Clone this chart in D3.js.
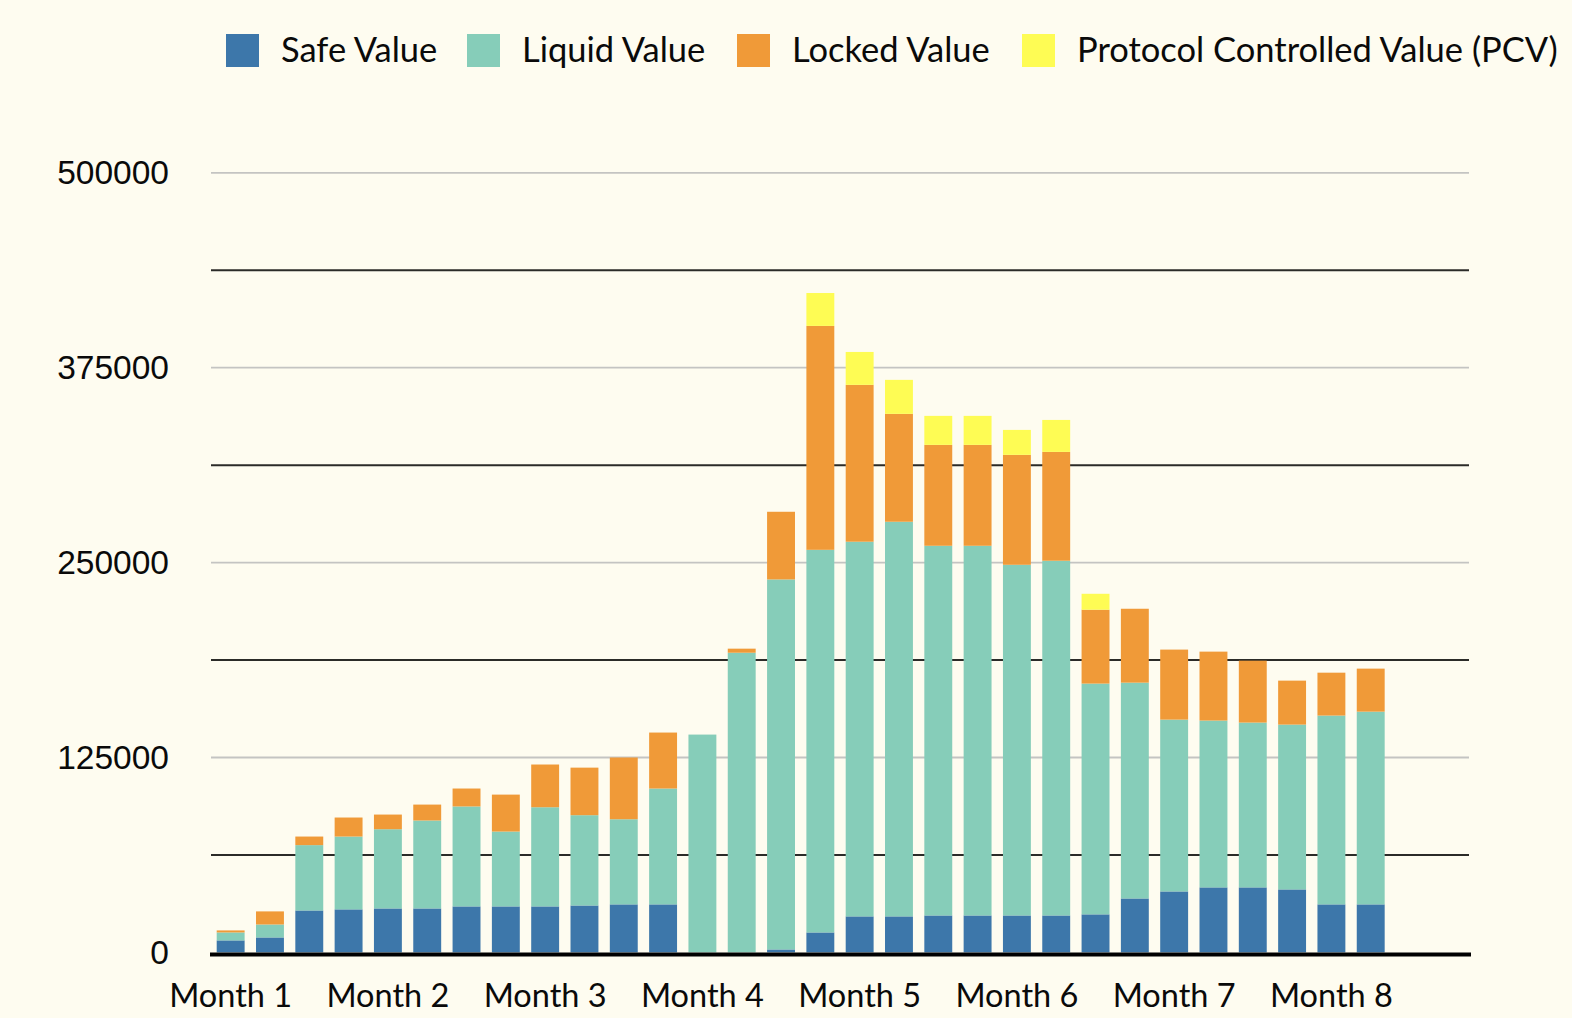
<!DOCTYPE html>
<html>
<head>
<meta charset="utf-8">
<script src="https://cdn.jsdelivr.net/npm/d3@7"></script>
<style>
  html, body { margin: 0; padding: 0; background: #fefcf0; }
  svg { display: block; }
</style>
</head>
<body>
<svg id="chart" width="1572" height="1018"></svg>
<script>
// ---- data ----
const categories = ["P1","P2","P3","P4","P5","P6","P7","P8","P9","P10","P11","P12","P13","P14","P15","P16",
                    "P17","P18","P19","P20","P21","P22","P23","P24","P25","P26","P27","P28","P29","P30","P31","P32"];
const safeValue   = [7700, 9600, 26900, 27600, 28200, 28200, 29500, 29500, 29500, 30100, 30800, 30800, 0, 0, 1900, 12800,
                     23100, 23100, 23700, 23700, 23700, 23700, 24400, 34600, 39100, 41700, 41700, 40400, 30800, 30800, 0, 0];
const liquidValue = [5100, 8300, 41900, 46700, 50800, 56400, 64100, 48000, 63600, 57900, 54600, 74300, 139700, 192200, 237300, 245400,
                     240300, 253100, 237100, 237100, 224900, 227500, 148000, 138400, 110200, 107000, 105700, 105700, 121100, 123600, 0, 0];
const lockedValue = [1300, 8400, 5500, 12200, 9400, 10200, 11500, 23700, 27400, 30500, 39600, 35900, 0, 2600, 43400, 143600,
                     100600, 69200, 64700, 64700, 70500, 69800, 47400, 47400, 44900, 44200, 39700, 28200, 27500, 27600, 0, 0];
const pcvValue    = [0, 0, 0, 0, 0, 0, 0, 0, 0, 0, 0, 0, 0, 0, 0, 21100,
                     21100, 21800, 18600, 18600, 16000, 20500, 10200, 0, 0, 0, 0, 0, 0, 0, 0, 0];
const seriesNames = ["Safe Value", "Liquid Value", "Locked Value", "Protocol Controlled Value (PCV)"];
const seriesColors = ["#3d77aa", "#86cdb9", "#f09a38", "#fefc54"];
const tickCategories = ["P1", "P5", "P9", "P13", "P17", "P21", "P25", "P29"];
const tickLabels = ["Month 1", "Month 2", "Month 3", "Month 4", "Month 5", "Month 6", "Month 7", "Month 8"];
const majorTicks = [0, 125000, 250000, 375000, 500000];
const minorTicks = [62500, 187500, 312500, 437500];

(function () {
// ---- build ----
const keys = ["safe", "liquid", "locked", "pcv"];
const rows = categories.map((c, i) => ({
  cat: c, safe: safeValue[i], liquid: liquidValue[i], locked: lockedValue[i], pcv: pcvValue[i]
}));
const stacked = d3.stack().keys(keys)(rows);

const svg = d3.select("#chart");
svg.append("rect").attr("width", 1572).attr("height", 1018).attr("fill", "#fefcf0");

const plotLeft = 211, plotRight = 1469, plotTop = 172.8, plotBottom = 952.4;
const x = d3.scaleBand().domain(categories).range([plotLeft, plotRight]).paddingInner(0.29).paddingOuter(0.145);
const y = d3.scaleLinear().domain([0, 500000]).range([plotBottom, plotTop]);

// gridlines
const grid = svg.append("g");
grid.selectAll("line.major").data(majorTicks.filter(d => d > 0)).join("line")
  .attr("class", "major")
  .attr("x1", plotLeft).attr("x2", plotRight)
  .attr("y1", d => y(d)).attr("y2", d => y(d))
  .attr("stroke", "#c4c4c2").attr("stroke-width", 1.8);
grid.selectAll("line.minor").data(minorTicks).join("line")
  .attr("class", "minor")
  .attr("x1", plotLeft).attr("x2", plotRight)
  .attr("y1", d => y(d)).attr("y2", d => y(d))
  .attr("stroke", "#2b2b28").attr("stroke-width", 2);

// bars
svg.append("g").selectAll("g").data(stacked).join("g")
  .attr("fill", (d, i) => seriesColors[i])
  .selectAll("rect").data(d => d).join("rect")
  .attr("x", d => x(d.data.cat))
  .attr("width", x.bandwidth())
  .attr("y", d => y(d[1]))
  .attr("height", d => Math.max(0, y(d[0]) - y(d[1])));

// bottom axis line
svg.append("line")
  .attr("x1", plotLeft - 1).attr("x2", plotRight + 2)
  .attr("y1", plotBottom + 2).attr("y2", plotBottom + 2)
  .attr("stroke", "#000").attr("stroke-width", 4);

// y axis labels
const yAxis = d3.axisLeft(y).tickValues(majorTicks).tickSize(0).tickPadding(42).tickFormat(d3.format("d"));
const yg = svg.append("g").attr("transform", `translate(${plotLeft},0)`).call(yAxis);
yg.select(".domain").remove();
yg.selectAll("text").attr("font-family", "'Liberation Sans', Arial, sans-serif")
  .attr("font-size", 33.5).attr("fill", "#0a0a0a");

// x axis labels
const xAxis = d3.axisBottom(x).tickValues(tickCategories).tickSize(0).tickPadding(32)
  .tickFormat(d => tickLabels[tickCategories.indexOf(d)]);
const xg = svg.append("g").attr("transform", `translate(0,${plotBottom})`).call(xAxis);
xg.select(".domain").remove();
xg.selectAll("text").attr("font-family", "Lato, 'Noto Sans', sans-serif")
  .attr("font-size", 32.5).attr("fill", "#0a0a0a");

// legend
const legend = svg.append("g");
const legendX = [226, 467, 737, 1022];
seriesNames.forEach((name, i) => {
  legend.append("rect").attr("x", legendX[i]).attr("y", 34).attr("width", 33).attr("height", 33)
    .attr("fill", seriesColors[i]);
  legend.append("text").attr("x", legendX[i] + 55).attr("y", 62)
    .attr("font-family", "Lato, 'Noto Sans', sans-serif").attr("font-size", 34.5)
    .attr("fill", "#0a0a0a").text(name);
});
})();
</script>
</body>
</html>
